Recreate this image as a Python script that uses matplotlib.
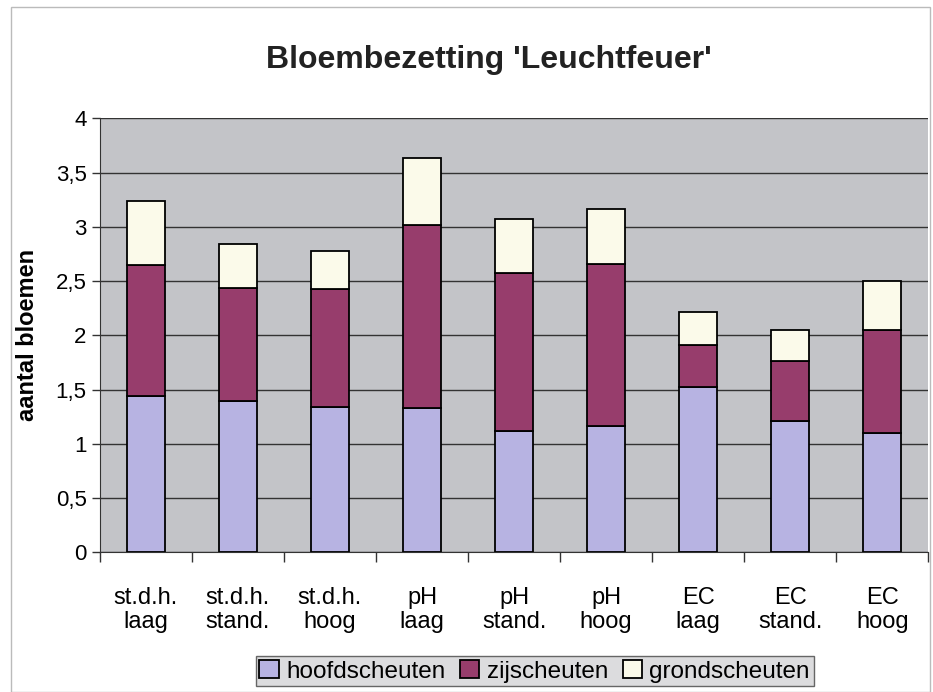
import matplotlib.pyplot as plt
import numpy as np
from matplotlib.patches import Rectangle

plt.rcParams['font.family'] = ['Liberation Sans', 'DejaVu Sans']

# data
categories = ["st.d.h.\nlaag", "st.d.h.\nstand.", "st.d.h.\nhoog",
              "pH\nlaag", "pH\nstand.", "pH\nhoog",
              "EC\nlaag", "EC\nstand.", "EC\nhoog"]
hoofdscheuten = [1.44, 1.39, 1.34, 1.33, 1.12, 1.16, 1.52, 1.21, 1.10]
zijscheuten = [1.21, 1.05, 1.09, 1.69, 1.45, 1.50, 0.39, 0.55, 0.95]
grondscheuten = [0.59, 0.40, 0.35, 0.61, 0.50, 0.50, 0.30, 0.29, 0.45]

x = np.arange(len(categories))
hoofd = np.array(hoofdscheuten)
zij = np.array(zijscheuten)
grond = np.array(grondscheuten)

fig = plt.figure(figsize=(9.33, 6.92), dpi=100)
ax = fig.add_axes([0.107, 0.202, 0.888, 0.627])
ax.set_facecolor('#c3c4c8')

w = 0.41
kw = dict(width=w, edgecolor='black', linewidth=1.3, zorder=3)
ax.bar(x, hoofd, color='#b7b3e2', label='hoofdscheuten', **kw)
ax.bar(x, zij, bottom=hoofd, color='#973d6c', label='zijscheuten', **kw)
ax.bar(x, grond, bottom=hoofd + zij, color='#fbfaea', label='grondscheuten', **kw)

ax.set_xlim(-0.5, len(categories) - 0.5)
ax.set_ylim(0, 4)
yt = np.arange(0, 4.01, 0.5)
ax.set_yticks(yt)
ax.set_yticklabels([('%g' % v).replace('.', ',') for v in yt], fontsize=16)
ax.yaxis.grid(True, color='#333333', linewidth=1.0, zorder=0)
ax.set_axisbelow(True)

ax.set_xticks(x)
ax.set_xticklabels(categories, fontsize=17, linespacing=1.15)
ax.tick_params(axis='x', which='major', length=0, pad=25)
ax.set_xticks(np.arange(-0.5, len(categories), 1), minor=True)
ax.tick_params(axis='x', which='minor', length=7, width=1, color='#333333')
ax.tick_params(axis='y', length=6, width=1, color='#333333')

for s in ['top', 'right']:
    ax.spines[s].set_visible(False)
ax.spines['left'].set_color('#333333')
ax.spines['bottom'].set_color('#333333')

ax.set_ylabel('aantal bloemen', fontsize=17, fontweight='bold', labelpad=12)
fig.text(0.524, 0.913, "Bloembezetting 'Leuchtfeuer'", ha='center', va='center',
         fontsize=23, fontweight='bold', color='#222222')

leg = fig.legend(loc='center', bbox_to_anchor=(0.573, 0.030), ncol=3, fontsize=17.5,
                 frameon=True, fancybox=False, edgecolor='#444444',
                 handlelength=0.8, handleheight=0.8, handletextpad=0.3,
                 columnspacing=0.6, borderpad=0.15)
leg.get_frame().set_facecolor('#d4d4d6')

fig.patches.append(Rectangle((0.012, 0.0), 0.985, 0.99, transform=fig.transFigure,
                             fill=False, edgecolor='#bbbbbb', linewidth=1))

plt.savefig("out.png", dpi=100)
